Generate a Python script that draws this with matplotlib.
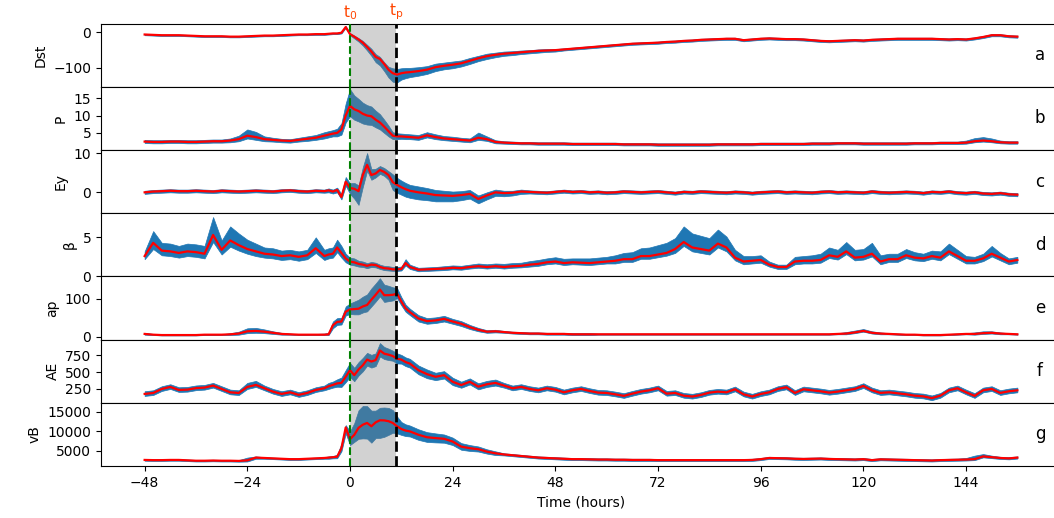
"""
Superposed epoch plot of storm-time parameters (median with quantile band).
"""

import numpy as np
import matplotlib
matplotlib.use("Agg")
import matplotlib.pyplot as plt

# epoch time axis: 2-h steps, hourly around the onset
hours = np.concatenate([np.arange(-48, -5, 2), np.arange(-5, 15), np.arange(16, 157, 2)])
t_peak = 10.7

panel_names = ["Dst", "P", "Ey", "β", "ap", "AE", "vB"]
panel_tags = ["a", "b", "c", "d", "e", "f", "g"]

dst_med = [-7, -8, -9, -9, -9, -10, -11, -12, -12, -12, -13, -13, -12, -11, -10, -10, -9, -8, -7, -7, -6, -6,
           -5, -4, -4, -2, 14, -6, -13, -21, -30, -42, -55, -70, -76, -90, -106, -116, -120, -116, -114, -113,
           -110, -106, -99, -95, -92, -88, -81, -74, -68, -64, -61, -59, -57, -55, -53, -52, -51, -49, -47, -45,
           -43, -41, -39, -37, -35, -33, -32, -31, -30, -28, -27, -25, -24, -22, -21, -20, -19, -19, -23, -21,
           -19, -18, -19, -20, -20, -21, -23, -25, -26, -25, -24, -23, -24, -22, -21, -20, -19, -19, -19, -19,
           -19, -20, -21, -20, -21, -18, -14, -9, -9, -12, -13]
dst_below = [2] * 22 + [2, 2, 2, 2, 2, 3, 5, 6, 8, 10, 12, 15, 18, 20, 22, 24, 22, 18, 16, 14] + \
            [13, 12, 11, 10, 10, 9, 9, 8, 8, 7, 6, 6, 5, 5, 5, 4, 4] + [3] * 54
dst_above = [2] * 22 + [2, 2, 2, 2, 3, 3, 3, 4, 5, 6, 8, 8, 6, 5, 8, 14, 16, 14, 13, 12] + \
            [11, 10, 10, 9, 9, 8, 8, 7, 7, 6, 6, 5, 5, 4, 4, 4, 3] + [3] * 54

p_med = [2.5, 2.4, 2.4, 2.5, 2.5, 2.4, 2.4, 2.5, 2.6, 2.6, 2.8, 3.2, 4.2, 3.8, 3.2, 3.0, 2.8, 2.7, 3.0, 3.3, 3.6, 4.2,
         4.5, 4.8, 5.0, 6.0, 10.0, 12.8, 11.8, 11.3, 10.5, 10.0, 9.8, 8.8, 8.0, 6.8, 5.5, 4.2, 4.0, 4.0, 3.9, 3.8,
         3.6, 4.3, 3.8, 3.4, 3.2, 3.0, 2.8, 3.6, 3.2, 2.4, 2.2, 2.1, 2.0, 2.0, 1.9, 1.9, 1.9, 1.9, 1.8, 1.8,
         1.8, 1.8, 1.8, 1.8, 1.7, 1.7, 1.7, 1.7, 1.6, 1.6, 1.6, 1.6, 1.6, 1.6, 1.6, 1.7, 1.7, 1.7, 1.7, 1.7,
         1.8, 1.8, 1.8, 1.8, 1.8, 1.8, 1.9, 1.9, 1.9, 2.0, 2.0, 2.0, 1.9, 1.9, 1.9, 1.9, 1.9, 1.9, 2.0, 2.0,
         2.0, 2.1, 2.1, 2.1, 2.2, 2.6, 2.8, 2.6, 2.3, 2.2, 2.2]
p_below = [0.4] * 10 + [0.5, 0.6, 0.8, 0.8, 0.6, 0.5, 0.5, 0.5, 0.5, 0.6, 0.6, 0.8] + \
          [0.8, 0.8, 1.0, 1.5, 2.0, 3.0, 3.0, 3.0, 2.8, 2.6, 2.5, 2.2, 2.0, 1.8, 1.5, 1.0, 0.8, 0.7, 0.7, 0.6] + \
          [0.6, 0.6, 0.6, 0.5, 0.5, 0.5, 0.5, 0.6, 0.5, 0.4] + [0.3] * 61
p_above = [0.5] * 10 + [0.6, 1.0, 1.8, 1.5, 0.8, 0.6, 0.5, 0.5, 0.6, 0.7, 0.8, 1.0] + \
          [1.0, 1.0, 1.2, 1.8, 3.5, 4.8, 4.0, 3.5, 3.2, 3.0, 2.8, 2.6, 2.4, 2.0, 1.6, 1.0, 0.9, 0.8, 0.8, 0.8] + \
          [0.8, 0.9, 0.8, 0.7, 0.7, 0.6, 0.6, 1.5, 0.8, 0.5] + [0.4] * 54 + [0.6, 0.9, 1.0, 0.8, 0.5, 0.4, 0.4]

ey_med = [0.0, 0.2, 0.3, 0.4, 0.3, 0.3, 0.4, 0.3, 0.2, 0.4, 0.3, 0.2, 0.3, 0.4, 0.3, 0.2, 0.4, 0.5, 0.3, 0.2, 0.4, 0.3,
          0.5, 0.2, 0.6, -1.2, 2.7, 1.1, 0.9, 0.3, 4.4, 7.0, 4.4, 4.8, 5.7, 5.2, 4.4, 2.6, 1.9, 1.3, 0.8, 0.4,
          0.0, -0.3, -0.7, -0.8, -0.9, -0.7, -0.4, -1.7, -0.8, 0.0, -0.2, -0.1, 0.2, 0.1, 0.0, -0.1, 0.1, 0.3, 0.1, 0.2,
          0.0, 0.1, -0.1, 0.0, 0.2, 0.1, 0.0, 0.1, 0.2, 0.0, -0.2, 0.1, 0.0, 0.2, 0.1, 0.0, -0.1, 0.1, 0.0, -0.2,
          0.0, 0.1, 0.2, 0.0, 0.1, 0.0, -0.1, 0.1, 0.2, 0.0, 0.1, 0.0, -0.1, 0.2, 0.0, -0.1, 0.0, 0.1, 0.0, -0.2,
          0.1, 0.0, 0.2, -0.1, -0.2, 0.0, -0.3, -0.4, -0.2, -0.5, -0.6]
ey_below = [0.4] * 22 + [0.5, 0.5, 0.6, 0.6, 1.0, 1.5, 2.5, 3.5, 3.0, 1.5, 1.2, 1.0, 1.0, 1.0, 1.2, 2.0, 2.0, 1.9, 1.9, 1.8] + \
           [1.8, 1.7, 1.6, 1.5, 1.4, 1.3, 1.2, 1.1, 1.0, 0.9, 0.8, 0.7, 0.6] + [0.4] * 58
ey_above = [0.4] * 22 + [0.5, 0.5, 0.6, 0.8, 1.2, 1.2, 1.5, 1.5, 2.0, 3.0, 1.5, 1.2, 1.0, 1.0, 1.0, 2.0, 1.8, 1.7, 1.6, 1.5] + \
           [1.5, 1.4, 1.3, 1.2, 1.1, 1.0, 1.0, 0.9, 0.8, 0.7, 0.6, 0.5, 0.5] + [0.4] * 58

beta_med = [2.6, 4.3, 3.3, 3.2, 3.0, 3.2, 3.1, 2.9, 5.3, 3.4, 4.6, 4.0, 3.5, 3.2, 2.9, 2.8, 2.6, 2.7, 2.5, 2.7, 3.6, 2.6,
            2.8, 2.9, 3.7, 3.0, 2.3, 1.9, 1.8, 1.6, 1.5, 1.35, 1.5, 1.45, 1.2, 1.05, 1.0, 0.9, 0.9, 0.95, 1.7, 1.2,
            0.85, 0.9, 0.95, 1.0, 1.1, 1.05, 1.2, 1.3, 1.2, 1.3, 1.2, 1.3, 1.35, 1.5, 1.6, 1.8, 1.9, 1.7, 1.8, 1.75,
            1.7, 1.8, 1.9, 2.0, 2.2, 2.2, 2.6, 2.6, 2.8, 3.0, 3.5, 4.4, 3.7, 3.5, 3.3, 4.2, 3.7, 2.4, 1.9, 2.0,
            2.1, 1.5, 1.2, 1.2, 1.9, 2.0, 2.0, 2.1, 2.7, 2.5, 3.2, 2.4, 2.5, 2.9, 1.9, 2.2, 2.2, 2.7, 2.4, 2.3,
            2.6, 2.4, 3.2, 2.6, 2.0, 2.0, 2.3, 2.9, 2.4, 1.9, 2.1]
beta_below = [0.4, 0.8, 0.6, 0.6, 0.6, 0.6, 0.6, 0.6, 0.9, 0.6, 0.8, 0.7, 0.6, 0.6, 0.5, 0.5, 0.5, 0.5, 0.5, 0.5, 0.6, 0.5,
              0.5, 0.5, 0.6, 0.6, 0.5, 0.4, 0.4, 0.35, 0.3, 0.3, 0.3, 0.3, 0.25, 0.25, 0.25, 0.2, 0.2, 0.2, 0.3, 0.25] + \
             [0.2] * 13 + [0.25] * 10 + [0.35] * 7 + [0.5] * 7 + [0.35] * 4 + [0.25] * 3 + [0.35] * 27
beta_above = [0.6, 1.5, 1.0, 1.0, 0.9, 1.0, 1.0, 1.0, 2.3, 1.2, 1.8, 1.5, 1.2, 1.0, 0.8, 0.8, 0.7, 0.7, 0.7, 0.7, 1.4, 0.8,
              0.8, 0.8, 1.0, 0.9, 0.6, 0.5, 0.5, 0.4, 0.4, 0.35, 0.35, 0.3, 0.3, 0.3, 0.3, 0.3, 0.3, 0.3, 0.5, 0.3,
              0.25, 0.25, 0.25, 0.3, 0.3, 0.3, 0.3, 0.35, 0.35, 0.35, 0.4, 0.4, 0.4,
              0.45, 0.5, 0.5, 0.55, 0.55, 0.5, 0.55, 0.6, 0.6, 0.6,
              0.7, 0.8, 0.9, 1.0, 1.1, 1.2, 1.3,
              1.4, 2.0, 1.8, 1.7, 1.6, 1.8, 1.4,
              1.0, 0.7, 0.6, 0.6,
              0.4, 0.3, 0.3,
              0.6, 0.6, 0.7, 0.8, 1.0, 0.9, 1.2, 1.0, 1.0, 1.4, 0.8, 0.7, 0.7, 0.8, 0.7, 0.6, 0.7, 0.8, 1.0, 0.8,
              0.6, 0.5, 0.6, 1.0, 0.6, 0.4, 0.4]

ap_med = [7, 5, 4, 4, 4, 4, 4, 5, 5, 5, 6, 8, 14, 15, 13, 10, 7, 6, 5, 5, 5, 5,
          6, 30, 39, 40, 66, 72, 73, 74, 80, 84, 98, 111, 125, 110, 110, 111, 114, 93, 75, 65,
          48, 41, 43, 47, 40, 34, 25, 18, 13, 14, 12, 10, 9, 8, 8, 7, 7, 7, 6, 6,
          6, 6, 6, 6, 6, 6, 6, 6, 6, 6, 6, 6, 6, 6, 6, 6, 6, 6, 6, 6,
          6, 6, 6, 6, 6, 6, 6, 6, 6, 7, 8, 11, 15, 10, 8, 7, 6, 5, 5, 4,
          4, 4, 5, 6, 7, 7, 9, 10, 8, 7, 6]
ap_below = [2, 1, 1, 1, 1, 1, 1, 1, 1, 1, 2, 3, 5, 5, 4, 3, 2, 1, 1, 1, 1, 1,
            2, 8, 8, 8, 10, 12, 14, 15, 16, 17, 18, 18, 18, 18, 16, 15, 12, 10, 9, 8,
            8, 7, 7, 7, 6, 6, 5, 4, 3, 3] + [2] * 11 + [1] * 29 + [2] * 5 + [1] * 10 + [2] * 4 + [1] * 2
ap_above = [3, 2, 1, 1, 1, 1, 1, 1, 1, 1, 3, 5, 8, 8, 6, 4, 3, 2, 1, 1, 2, 3,
            4, 10, 10, 10, 14, 16, 20, 24, 26, 28, 30, 30, 30, 28, 25, 20, 15, 12, 10, 9,
            9, 8, 8, 8, 7, 7, 6, 5, 4, 4] + [3] * 11 + [2] * 29 + [4, 5, 5, 4, 3] + [2] * 10 + [4, 5, 4, 3] + [2, 2]

ae_med = [176, 190, 250, 280, 235, 240, 262, 270, 300, 250, 200, 190, 280, 310, 260, 210, 176, 200, 162, 190, 235, 260,
          290, 310, 333, 340, 431, 529, 455, 540, 603, 687, 658, 680, 823, 775, 760, 740, 700, 687, 650, 628,
          529, 470, 431, 455, 357, 308, 357, 284, 320, 340, 300, 260, 280, 250, 230, 260, 240, 200, 230, 250,
          220, 195, 190, 170, 147, 180, 210, 230, 260, 180, 190, 150, 137, 160, 195, 210, 200, 245, 170, 137,
          175, 200, 250, 275, 191, 245, 230, 215, 195, 210, 230, 250, 295, 230, 191, 200, 185, 170, 150, 140,
          113, 150, 230, 260, 200, 147, 230, 250, 191, 215, 230]
ae_below = [30] * 22 + [40, 40, 50, 60, 80, 100, 90, 90, 90, 90, 90, 90, 90, 80, 80, 70, 70, 60, 60, 60] + \
           [60, 60, 50, 50, 50, 40, 40, 40, 40, 40] + [30] * 61
ae_above = [40] * 12 + [60, 60] + [40] * 8 + [50, 50, 60, 80, 100, 110, 110, 110, 110, 100, 100, 100, 110, 100, 90, 80, 80, 70, 70, 70] + \
           [70, 70, 60, 60, 60, 50, 50, 50, 50, 50] + [40] * 61

vb_med = [2700, 2650, 2650, 2700, 2700, 2600, 2500, 2500, 2550, 2500, 2500, 2450, 2600, 3300, 3200, 3100, 3000, 2900, 2900, 3000, 3100, 3200,
          3300, 3400, 3530, 5700, 11000, 8000, 9100, 10900, 11700, 12150, 11300, 12300, 12830, 12800, 12600, 12150, 11300, 10600, 10200, 9990,
          9130, 8500, 8280, 8100, 7400, 6100, 5700, 5440, 4820, 4400, 4100, 3900, 3700, 3500, 3300, 3200, 3100, 3000, 2900, 2900,
          2850, 2800, 2800, 2750, 2750, 2700, 2700, 2700, 2650, 2650, 2650, 2650, 2650, 2650, 2650, 2650, 2650, 2650, 2650, 2700,
          2900, 3200, 3150, 3100, 3000, 2950, 3000, 3050, 2950, 2900, 2850, 2800, 2900, 2650, 2850, 2800, 2750, 2700, 2650, 2600,
          2550, 2650, 2700, 2750, 2800, 2900, 3600, 3400, 3200, 3100, 3300]
vb_below = [200] * 12 + [300, 300] + [200] * 8 + \
           [300, 300, 400, 800, 1500, 1500, 1800, 2800, 3500, 4000, 4200, 4000, 4500, 4200, 3500, 2500, 1800, 1500, 1400, 1300] + \
           [1300, 1200, 1100, 1000, 900, 800, 700, 600, 500, 450] + [250] * 61
vb_above = [200] * 12 + [700, 300] + [200] * 8 + \
           [300, 300, 500, 1200, 600, 2000, 3000, 4500, 4800, 4300, 4000, 3000, 3200, 3300, 3400, 3300, 2500, 1800, 1600, 1500] + \
           [1400, 1300, 1200, 1100, 1000, 900, 800, 700, 600, 500] + [300] * 54 + [400, 900, 600, 400, 300, 300, 300]

medians = [dst_med, p_med, ey_med, beta_med, ap_med, ae_med, vb_med]
belows = [dst_below, p_below, ey_below, beta_below, ap_below, ae_below, vb_below]
aboves = [dst_above, p_above, ey_above, beta_above, ap_above, ae_above, vb_above]

y_ticks = [[-100, 0], [5, 10, 15], [0, 10], [0, 5], [0, 100], [250, 500, 750], [5000, 10000, 15000]]
y_lims = [(-154, 24), (0.1, 18.3), (-5.3, 10.8), (0.0, 8.1), (-8, 160), (44, 985), (1150, 17300)]


def main() -> None:
    fig, axes = plt.subplots(7, 1, sharex=True, figsize=(10.54, 5.18), dpi=100)
    fig.subplots_adjust(left=101 / 1054, right=1061 / 1054, top=1 - 23.5 / 518,
                        bottom=1 - 466 / 518, hspace=0)

    for i, ax in enumerate(axes):
        med = np.array(medians[i], dtype=float)
        lo = med - np.array(belows[i], dtype=float)
        hi = med + np.array(aboves[i], dtype=float)
        ax.fill_between(hours, lo, hi, color="#1f77b4", lw=0.5, zorder=1)
        ax.axvspan(0, t_peak, color="gray", alpha=0.35, lw=0, zorder=2)
        ax.plot(hours, med, color="red", lw=1.6, zorder=3)
        ax.axvline(0, color="green", ls="--", lw=1.5, zorder=4)
        ax.axvline(t_peak, color="black", ls="--", lw=2, zorder=4)
        ax.set_ylabel(panel_names[i])
        ax.set_yticks(y_ticks[i])
        ax.set_ylim(*y_lims[i])
        ax.text(0.978, 0.5, panel_tags[i], transform=ax.transAxes,
                ha="center", va="center", fontsize=12)

    top = axes[0]
    trans = top.get_xaxis_transform()
    top.text(0, 1.02, "t$_0$", transform=trans, ha="center", va="bottom", color="orangered", fontsize=11)
    top.text(t_peak, 1.02, "t$_\\mathregular{p}$", transform=trans, ha="center", va="bottom",
             color="orangered", fontsize=11)

    axes[-1].set_xticks([-48, -24, 0, 24, 48, 72, 96, 120, 144])
    axes[-1].set_xlabel("Time (hours)")

    fig.savefig("out.png", dpi=100)


if __name__ == "__main__":
    main()
